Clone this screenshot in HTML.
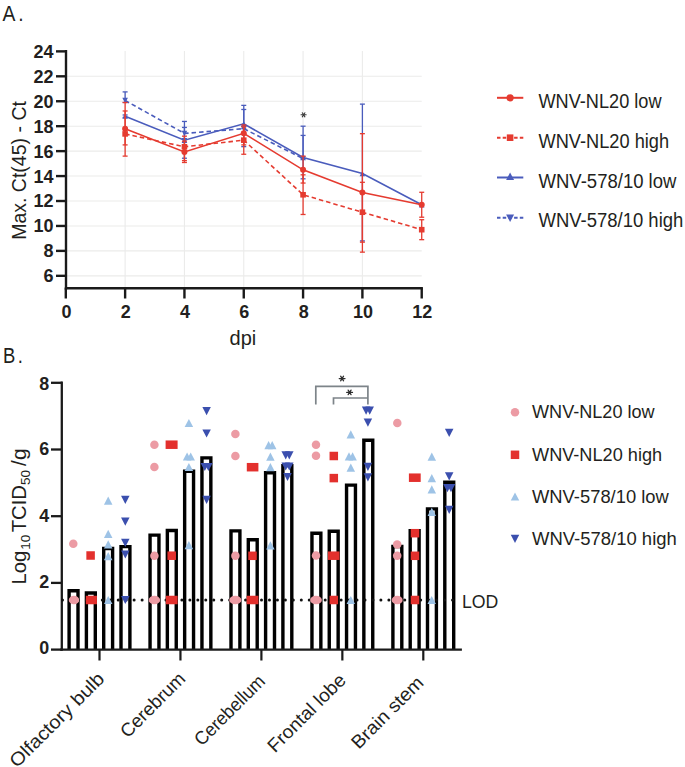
<!DOCTYPE html>
<html><head><meta charset="utf-8"><style>html,body{margin:0;padding:0;background:#fff;overflow:hidden;width:685px;height:767px}svg{display:block}</style></head>
<body><svg width="685" height="767" viewBox="0 0 685 767">
<rect width="685" height="767" fill="#fff"/>
<line x1="66" y1="275.83" x2="421.7" y2="275.83" stroke="#ebebea" stroke-width="1.1"/>
<line x1="66" y1="250.89" x2="421.7" y2="250.89" stroke="#ebebea" stroke-width="1.1"/>
<line x1="66" y1="225.95" x2="421.7" y2="225.95" stroke="#ebebea" stroke-width="1.1"/>
<line x1="66" y1="201.01" x2="421.7" y2="201.01" stroke="#ebebea" stroke-width="1.1"/>
<line x1="66" y1="176.07" x2="421.7" y2="176.07" stroke="#ebebea" stroke-width="1.1"/>
<line x1="66" y1="151.13" x2="421.7" y2="151.13" stroke="#ebebea" stroke-width="1.1"/>
<line x1="66" y1="126.19" x2="421.7" y2="126.19" stroke="#ebebea" stroke-width="1.1"/>
<line x1="66" y1="101.25" x2="421.7" y2="101.25" stroke="#ebebea" stroke-width="1.1"/>
<line x1="66" y1="76.31" x2="421.7" y2="76.31" stroke="#ebebea" stroke-width="1.1"/>
<line x1="125.12" y1="51" x2="125.12" y2="288" stroke="#ebebea" stroke-width="1.1"/>
<line x1="184.44" y1="51" x2="184.44" y2="288" stroke="#ebebea" stroke-width="1.1"/>
<line x1="243.76" y1="51" x2="243.76" y2="288" stroke="#ebebea" stroke-width="1.1"/>
<line x1="303.08" y1="51" x2="303.08" y2="288" stroke="#ebebea" stroke-width="1.1"/>
<line x1="362.40" y1="51" x2="362.40" y2="288" stroke="#ebebea" stroke-width="1.1"/>
<line x1="66" y1="50" x2="66" y2="289.5" stroke="#1a1a1a" stroke-width="2.4"/>
<line x1="64.8" y1="288.3" x2="422.9" y2="288.3" stroke="#1a1a1a" stroke-width="2.4"/>
<line x1="56" y1="275.83" x2="66" y2="275.83" stroke="#1a1a1a" stroke-width="2.4"/>
<text x="53.6" y="282.28" text-anchor="end" style="font-family:'Liberation Sans',sans-serif;font-weight:bold;font-size:18px" fill="#231f20">6</text>
<line x1="56" y1="250.89" x2="66" y2="250.89" stroke="#1a1a1a" stroke-width="2.4"/>
<text x="53.6" y="257.34" text-anchor="end" style="font-family:'Liberation Sans',sans-serif;font-weight:bold;font-size:18px" fill="#231f20">8</text>
<line x1="56" y1="225.95" x2="66" y2="225.95" stroke="#1a1a1a" stroke-width="2.4"/>
<text x="53.6" y="232.40" text-anchor="end" style="font-family:'Liberation Sans',sans-serif;font-weight:bold;font-size:18px" fill="#231f20">10</text>
<line x1="56" y1="201.01" x2="66" y2="201.01" stroke="#1a1a1a" stroke-width="2.4"/>
<text x="53.6" y="207.46" text-anchor="end" style="font-family:'Liberation Sans',sans-serif;font-weight:bold;font-size:18px" fill="#231f20">12</text>
<line x1="56" y1="176.07" x2="66" y2="176.07" stroke="#1a1a1a" stroke-width="2.4"/>
<text x="53.6" y="182.52" text-anchor="end" style="font-family:'Liberation Sans',sans-serif;font-weight:bold;font-size:18px" fill="#231f20">14</text>
<line x1="56" y1="151.13" x2="66" y2="151.13" stroke="#1a1a1a" stroke-width="2.4"/>
<text x="53.6" y="157.58" text-anchor="end" style="font-family:'Liberation Sans',sans-serif;font-weight:bold;font-size:18px" fill="#231f20">16</text>
<line x1="56" y1="126.19" x2="66" y2="126.19" stroke="#1a1a1a" stroke-width="2.4"/>
<text x="53.6" y="132.64" text-anchor="end" style="font-family:'Liberation Sans',sans-serif;font-weight:bold;font-size:18px" fill="#231f20">18</text>
<line x1="56" y1="101.25" x2="66" y2="101.25" stroke="#1a1a1a" stroke-width="2.4"/>
<text x="53.6" y="107.70" text-anchor="end" style="font-family:'Liberation Sans',sans-serif;font-weight:bold;font-size:18px" fill="#231f20">20</text>
<line x1="56" y1="76.31" x2="66" y2="76.31" stroke="#1a1a1a" stroke-width="2.4"/>
<text x="53.6" y="82.76" text-anchor="end" style="font-family:'Liberation Sans',sans-serif;font-weight:bold;font-size:18px" fill="#231f20">22</text>
<line x1="56" y1="51.37" x2="66" y2="51.37" stroke="#1a1a1a" stroke-width="2.4"/>
<text x="53.6" y="57.82" text-anchor="end" style="font-family:'Liberation Sans',sans-serif;font-weight:bold;font-size:18px" fill="#231f20">24</text>
<line x1="65.80" y1="288.3" x2="65.80" y2="298.5" stroke="#1a1a1a" stroke-width="2.4"/>
<text x="66.40" y="318.3" text-anchor="middle" style="font-family:'Liberation Sans',sans-serif;font-weight:bold;font-size:18px" fill="#231f20">0</text>
<line x1="125.12" y1="288.3" x2="125.12" y2="298.5" stroke="#1a1a1a" stroke-width="2.4"/>
<text x="125.72" y="318.3" text-anchor="middle" style="font-family:'Liberation Sans',sans-serif;font-weight:bold;font-size:18px" fill="#231f20">2</text>
<line x1="184.44" y1="288.3" x2="184.44" y2="298.5" stroke="#1a1a1a" stroke-width="2.4"/>
<text x="185.04" y="318.3" text-anchor="middle" style="font-family:'Liberation Sans',sans-serif;font-weight:bold;font-size:18px" fill="#231f20">4</text>
<line x1="243.76" y1="288.3" x2="243.76" y2="298.5" stroke="#1a1a1a" stroke-width="2.4"/>
<text x="244.36" y="318.3" text-anchor="middle" style="font-family:'Liberation Sans',sans-serif;font-weight:bold;font-size:18px" fill="#231f20">6</text>
<line x1="303.08" y1="288.3" x2="303.08" y2="298.5" stroke="#1a1a1a" stroke-width="2.4"/>
<text x="303.68" y="318.3" text-anchor="middle" style="font-family:'Liberation Sans',sans-serif;font-weight:bold;font-size:18px" fill="#231f20">8</text>
<line x1="362.40" y1="288.3" x2="362.40" y2="298.5" stroke="#1a1a1a" stroke-width="2.4"/>
<text x="363.00" y="318.3" text-anchor="middle" style="font-family:'Liberation Sans',sans-serif;font-weight:bold;font-size:18px" fill="#231f20">10</text>
<line x1="421.72" y1="288.3" x2="421.72" y2="298.5" stroke="#1a1a1a" stroke-width="2.4"/>
<text x="422.32" y="318.3" text-anchor="middle" style="font-family:'Liberation Sans',sans-serif;font-weight:bold;font-size:18px" fill="#231f20">12</text>
<text x="242.9" y="345.2" text-anchor="middle" style="font-family:'Liberation Sans',sans-serif;font-size:20px" fill="#231f20">dpi</text>
<text transform="translate(25.7,239.8) rotate(-90)" x="0" y="0" style="font-family:'Liberation Sans',sans-serif;font-size:19.5px" fill="#231f20">Max. Ct(45) - Ct</text>
<text transform="translate(2.4,21.2) scale(0.86,1)" style="font-family:'Liberation Sans',sans-serif;font-size:22.5px;letter-spacing:3.5px" fill="#231f20">A.</text>
<path d="M125.12,100.50 L184.44,133.42 L243.76,128.68 L303.08,158.61" fill="none" stroke="#4a5cbc" stroke-width="1.6" stroke-dasharray="4.5,3"/>
<path d="M125.12,116.21 L184.44,140.28 L243.76,123.82 L303.08,157.49 L362.40,173.58 L421.72,204.75" fill="none" stroke="#4a5cbc" stroke-width="1.6"/>
<line x1="125.12" y1="91.90" x2="125.12" y2="102.50" stroke="#4a5cbc" stroke-width="1.3"/><line x1="122.62" y1="91.90" x2="127.62" y2="91.90" stroke="#4a5cbc" stroke-width="1.3"/><line x1="122.62" y1="102.50" x2="127.62" y2="102.50" stroke="#4a5cbc" stroke-width="1.3"/>
<line x1="125.12" y1="114.97" x2="125.12" y2="117.46" stroke="#4a5cbc" stroke-width="1.3"/><line x1="122.62" y1="114.97" x2="127.62" y2="114.97" stroke="#4a5cbc" stroke-width="1.3"/><line x1="122.62" y1="117.46" x2="127.62" y2="117.46" stroke="#4a5cbc" stroke-width="1.3"/>
<line x1="184.44" y1="121.45" x2="184.44" y2="158.24" stroke="#4a5cbc" stroke-width="1.3"/><line x1="181.94" y1="121.45" x2="186.94" y2="121.45" stroke="#4a5cbc" stroke-width="1.3"/><line x1="181.94" y1="158.24" x2="186.94" y2="158.24" stroke="#4a5cbc" stroke-width="1.3"/>
<line x1="184.44" y1="127.44" x2="184.44" y2="138.66" stroke="#4a5cbc" stroke-width="1.3"/><line x1="181.94" y1="127.44" x2="186.94" y2="127.44" stroke="#4a5cbc" stroke-width="1.3"/><line x1="181.94" y1="138.66" x2="186.94" y2="138.66" stroke="#4a5cbc" stroke-width="1.3"/>
<line x1="243.76" y1="105.37" x2="243.76" y2="146.64" stroke="#4a5cbc" stroke-width="1.3"/><line x1="241.26" y1="105.37" x2="246.26" y2="105.37" stroke="#4a5cbc" stroke-width="1.3"/><line x1="241.26" y1="146.64" x2="246.26" y2="146.64" stroke="#4a5cbc" stroke-width="1.3"/>
<line x1="243.76" y1="109.48" x2="243.76" y2="128.68" stroke="#4a5cbc" stroke-width="1.3"/><line x1="241.26" y1="109.48" x2="246.26" y2="109.48" stroke="#4a5cbc" stroke-width="1.3"/><line x1="241.26" y1="128.68" x2="246.26" y2="128.68" stroke="#4a5cbc" stroke-width="1.3"/>
<line x1="303.08" y1="126.19" x2="303.08" y2="178.81" stroke="#4a5cbc" stroke-width="1.3"/><line x1="300.58" y1="126.19" x2="305.58" y2="126.19" stroke="#4a5cbc" stroke-width="1.3"/><line x1="300.58" y1="178.81" x2="305.58" y2="178.81" stroke="#4a5cbc" stroke-width="1.3"/>
<line x1="303.08" y1="135.42" x2="303.08" y2="158.61" stroke="#4a5cbc" stroke-width="1.3"/><line x1="300.58" y1="135.42" x2="305.58" y2="135.42" stroke="#4a5cbc" stroke-width="1.3"/><line x1="300.58" y1="158.61" x2="305.58" y2="158.61" stroke="#4a5cbc" stroke-width="1.3"/>
<line x1="362.40" y1="104.12" x2="362.40" y2="240.91" stroke="#4a5cbc" stroke-width="1.3"/><line x1="359.90" y1="104.12" x2="364.90" y2="104.12" stroke="#4a5cbc" stroke-width="1.3"/><line x1="359.90" y1="240.91" x2="364.90" y2="240.91" stroke="#4a5cbc" stroke-width="1.3"/>
<path d="M122.32,118.87 L127.92,118.87 L125.12,113.55 Z" fill="#4a5cbc"/>
<path d="M181.64,142.94 L187.24,142.94 L184.44,137.62 Z" fill="#4a5cbc"/>
<path d="M240.96,126.48 L246.56,126.48 L243.76,121.16 Z" fill="#4a5cbc"/>
<path d="M300.28,160.15 L305.88,160.15 L303.08,154.83 Z" fill="#4a5cbc"/>
<path d="M359.60,176.24 L365.20,176.24 L362.40,170.92 Z" fill="#4a5cbc"/>
<path d="M418.92,207.41 L424.52,207.41 L421.72,202.09 Z" fill="#4a5cbc"/>
<path d="M122.32,97.84 L127.92,97.84 L125.12,103.16 Z" fill="#4a5cbc"/>
<path d="M181.64,130.76 L187.24,130.76 L184.44,136.08 Z" fill="#4a5cbc"/>
<path d="M240.96,126.02 L246.56,126.02 L243.76,131.34 Z" fill="#4a5cbc"/>
<path d="M300.28,155.95 L305.88,155.95 L303.08,161.27 Z" fill="#4a5cbc"/>
<path d="M125.12,133.92 L184.44,146.77 L243.76,140.16 L303.08,194.78 L362.40,212.23 L421.72,229.69" fill="none" stroke="#e53b30" stroke-width="1.6" stroke-dasharray="4.5,3"/>
<path d="M125.12,128.68 L184.44,152.00 L243.76,133.30 L303.08,169.84 L362.40,192.53 L421.72,204.75" fill="none" stroke="#e53b30" stroke-width="1.6"/>
<line x1="125.12" y1="102.50" x2="125.12" y2="156.12" stroke="#e53b30" stroke-width="1.3"/><line x1="122.62" y1="102.50" x2="127.62" y2="102.50" stroke="#e53b30" stroke-width="1.3"/><line x1="122.62" y1="156.12" x2="127.62" y2="156.12" stroke="#e53b30" stroke-width="1.3"/>
<line x1="125.12" y1="110.98" x2="125.12" y2="144.90" stroke="#e53b30" stroke-width="1.3"/><line x1="122.62" y1="110.98" x2="127.62" y2="110.98" stroke="#e53b30" stroke-width="1.3"/><line x1="122.62" y1="144.90" x2="127.62" y2="144.90" stroke="#e53b30" stroke-width="1.3"/>
<line x1="184.44" y1="136.17" x2="184.44" y2="162.48" stroke="#e53b30" stroke-width="1.3"/><line x1="181.94" y1="136.17" x2="186.94" y2="136.17" stroke="#e53b30" stroke-width="1.3"/><line x1="181.94" y1="162.48" x2="186.94" y2="162.48" stroke="#e53b30" stroke-width="1.3"/>
<line x1="184.44" y1="141.15" x2="184.44" y2="160.61" stroke="#e53b30" stroke-width="1.3"/><line x1="181.94" y1="141.15" x2="186.94" y2="141.15" stroke="#e53b30" stroke-width="1.3"/><line x1="181.94" y1="160.61" x2="186.94" y2="160.61" stroke="#e53b30" stroke-width="1.3"/>
<line x1="243.76" y1="124.94" x2="243.76" y2="154.25" stroke="#e53b30" stroke-width="1.3"/><line x1="241.26" y1="124.94" x2="246.26" y2="124.94" stroke="#e53b30" stroke-width="1.3"/><line x1="241.26" y1="154.25" x2="246.26" y2="154.25" stroke="#e53b30" stroke-width="1.3"/>
<line x1="243.76" y1="126.81" x2="243.76" y2="144.90" stroke="#e53b30" stroke-width="1.3"/><line x1="241.26" y1="126.81" x2="246.26" y2="126.81" stroke="#e53b30" stroke-width="1.3"/><line x1="241.26" y1="144.90" x2="246.26" y2="144.90" stroke="#e53b30" stroke-width="1.3"/>
<line x1="303.08" y1="156.12" x2="303.08" y2="214.48" stroke="#e53b30" stroke-width="1.3"/><line x1="300.58" y1="156.12" x2="305.58" y2="156.12" stroke="#e53b30" stroke-width="1.3"/><line x1="300.58" y1="214.48" x2="305.58" y2="214.48" stroke="#e53b30" stroke-width="1.3"/>
<line x1="303.08" y1="174.82" x2="303.08" y2="183.05" stroke="#e53b30" stroke-width="1.3"/><line x1="300.58" y1="174.82" x2="305.58" y2="174.82" stroke="#e53b30" stroke-width="1.3"/><line x1="300.58" y1="183.05" x2="305.58" y2="183.05" stroke="#e53b30" stroke-width="1.3"/>
<line x1="362.40" y1="133.67" x2="362.40" y2="252.14" stroke="#e53b30" stroke-width="1.3"/><line x1="359.90" y1="133.67" x2="364.90" y2="133.67" stroke="#e53b30" stroke-width="1.3"/><line x1="359.90" y1="252.14" x2="364.90" y2="252.14" stroke="#e53b30" stroke-width="1.3"/>
<line x1="362.40" y1="182.31" x2="362.40" y2="242.16" stroke="#e53b30" stroke-width="1.3"/><line x1="359.90" y1="182.31" x2="364.90" y2="182.31" stroke="#e53b30" stroke-width="1.3"/><line x1="359.90" y1="242.16" x2="364.90" y2="242.16" stroke="#e53b30" stroke-width="1.3"/>
<line x1="421.72" y1="192.28" x2="421.72" y2="217.22" stroke="#e53b30" stroke-width="1.3"/><line x1="419.22" y1="192.28" x2="424.22" y2="192.28" stroke="#e53b30" stroke-width="1.3"/><line x1="419.22" y1="217.22" x2="424.22" y2="217.22" stroke="#e53b30" stroke-width="1.3"/>
<line x1="421.72" y1="219.72" x2="421.72" y2="239.67" stroke="#e53b30" stroke-width="1.3"/><line x1="419.22" y1="219.72" x2="424.22" y2="219.72" stroke="#e53b30" stroke-width="1.3"/><line x1="419.22" y1="239.67" x2="424.22" y2="239.67" stroke="#e53b30" stroke-width="1.3"/>
<rect x="122.32" y="131.12" width="5.6" height="5.6" fill="#e53b30"/>
<rect x="181.64" y="143.97" width="5.6" height="5.6" fill="#e53b30"/>
<rect x="240.96" y="137.36" width="5.6" height="5.6" fill="#e53b30"/>
<rect x="300.28" y="191.97" width="5.6" height="5.6" fill="#e53b30"/>
<rect x="359.60" y="209.43" width="5.6" height="5.6" fill="#e53b30"/>
<rect x="418.92" y="226.89" width="5.6" height="5.6" fill="#e53b30"/>
<circle cx="125.12" cy="128.68" r="3.0" fill="#e53b30"/>
<circle cx="184.44" cy="152.00" r="3.0" fill="#e53b30"/>
<circle cx="243.76" cy="133.30" r="3.0" fill="#e53b30"/>
<circle cx="303.08" cy="169.84" r="3.0" fill="#e53b30"/>
<circle cx="362.40" cy="192.53" r="3.0" fill="#e53b30"/>
<circle cx="421.72" cy="204.75" r="3.0" fill="#e53b30"/>
<line x1="497" y1="97.8" x2="523.3" y2="97.8" stroke="#e53b30" stroke-width="2"/>
<circle cx="510.1" cy="97.8" r="3.6" fill="#e53b30"/>
<text x="538.5" y="108.0" textLength="123" lengthAdjust="spacingAndGlyphs" style="font-family:'Liberation Sans',sans-serif;font-size:19.5px" fill="#231f20">WNV-NL20 low</text>
<line x1="497" y1="137.7" x2="523.3" y2="137.7" stroke="#e53b30" stroke-width="2" stroke-dasharray="3.5,2.2"/>
<rect x="506.8" y="134.39999999999998" width="6.6" height="6.6" fill="#e53b30"/>
<text x="538.5" y="148.0" textLength="130.6" lengthAdjust="spacingAndGlyphs" style="font-family:'Liberation Sans',sans-serif;font-size:19.5px" fill="#231f20">WNV-NL20 high</text>
<line x1="497" y1="177.5" x2="523.3" y2="177.5" stroke="#4a5cbc" stroke-width="2"/>
<path d="M506.10,180.10 L514.10,180.10 L510.10,172.50 Z" fill="#4a5cbc"/>
<text x="538.5" y="187.5" textLength="137.9" lengthAdjust="spacingAndGlyphs" style="font-family:'Liberation Sans',sans-serif;font-size:19.5px" fill="#231f20">WNV-578/10 low</text>
<line x1="497" y1="217.7" x2="523.3" y2="217.7" stroke="#4a5cbc" stroke-width="2" stroke-dasharray="3.5,2.2"/>
<path d="M506.10,214.40 L514.10,214.40 L510.10,222.00 Z" fill="#4a5cbc"/>
<text x="538.5" y="226.8" textLength="144.8" lengthAdjust="spacingAndGlyphs" style="font-family:'Liberation Sans',sans-serif;font-size:19.5px" fill="#231f20">WNV-578/10 high</text>
<text transform="translate(3,362.8) scale(0.84,1)" style="font-family:'Liberation Sans',sans-serif;font-size:22px;letter-spacing:3px" fill="#231f20">B.</text>
<line x1="61.8" y1="381.6" x2="61.8" y2="650.7" stroke="#1a1a1a" stroke-width="2.3"/>
<line x1="51" y1="649.60" x2="61.8" y2="649.60" stroke="#1a1a1a" stroke-width="2.3"/>
<text x="49.2" y="654.10" text-anchor="end" style="font-family:'Liberation Sans',sans-serif;font-weight:bold;font-size:17.9px" fill="#231f20">0</text>
<line x1="51" y1="582.90" x2="61.8" y2="582.90" stroke="#1a1a1a" stroke-width="2.3"/>
<text x="49.2" y="588.40" text-anchor="end" style="font-family:'Liberation Sans',sans-serif;font-weight:bold;font-size:17.9px" fill="#231f20">2</text>
<line x1="51" y1="516.20" x2="61.8" y2="516.20" stroke="#1a1a1a" stroke-width="2.3"/>
<text x="49.2" y="521.90" text-anchor="end" style="font-family:'Liberation Sans',sans-serif;font-weight:bold;font-size:17.9px" fill="#231f20">4</text>
<line x1="51" y1="449.50" x2="61.8" y2="449.50" stroke="#1a1a1a" stroke-width="2.3"/>
<text x="49.2" y="455.30" text-anchor="end" style="font-family:'Liberation Sans',sans-serif;font-weight:bold;font-size:17.9px" fill="#231f20">6</text>
<line x1="51" y1="382.80" x2="61.8" y2="382.80" stroke="#1a1a1a" stroke-width="2.3"/>
<text x="49.2" y="389.80" text-anchor="end" style="font-family:'Liberation Sans',sans-serif;font-weight:bold;font-size:17.9px" fill="#231f20">8</text>
<line x1="99.50" y1="649.6" x2="99.50" y2="660.5" stroke="#1a1a1a" stroke-width="2.2"/>
<line x1="180.45" y1="649.6" x2="180.45" y2="660.5" stroke="#1a1a1a" stroke-width="2.2"/>
<line x1="261.40" y1="649.6" x2="261.40" y2="660.5" stroke="#1a1a1a" stroke-width="2.2"/>
<line x1="342.35" y1="649.6" x2="342.35" y2="660.5" stroke="#1a1a1a" stroke-width="2.2"/>
<line x1="423.30" y1="649.6" x2="423.30" y2="660.5" stroke="#1a1a1a" stroke-width="2.2"/>
<path d="M69.10,649.6 L69.10,590.70 L78.00,590.70 L78.00,649.6" fill="#fff" stroke="#000" stroke-width="3.4" stroke-linejoin="miter"/>
<path d="M86.40,649.6 L86.40,593.00 L95.30,593.00 L95.30,649.6" fill="#fff" stroke="#000" stroke-width="3.4" stroke-linejoin="miter"/>
<path d="M103.70,649.6 L103.70,548.50 L112.60,548.50 L112.60,649.6" fill="#fff" stroke="#000" stroke-width="3.4" stroke-linejoin="miter"/>
<path d="M121.00,649.6 L121.00,546.60 L129.90,546.60 L129.90,649.6" fill="#fff" stroke="#000" stroke-width="3.4" stroke-linejoin="miter"/>
<path d="M150.05,649.6 L150.05,535.10 L158.95,535.10 L158.95,649.6" fill="#fff" stroke="#000" stroke-width="3.4" stroke-linejoin="miter"/>
<path d="M167.35,649.6 L167.35,530.50 L176.25,530.50 L176.25,649.6" fill="#fff" stroke="#000" stroke-width="3.4" stroke-linejoin="miter"/>
<path d="M184.65,649.6 L184.65,471.30 L193.55,471.30 L193.55,649.6" fill="#fff" stroke="#000" stroke-width="3.4" stroke-linejoin="miter"/>
<path d="M201.95,649.6 L201.95,457.90 L210.85,457.90 L210.85,649.6" fill="#fff" stroke="#000" stroke-width="3.4" stroke-linejoin="miter"/>
<path d="M231.00,649.6 L231.00,530.90 L239.90,530.90 L239.90,649.6" fill="#fff" stroke="#000" stroke-width="3.4" stroke-linejoin="miter"/>
<path d="M248.30,649.6 L248.30,539.80 L257.20,539.80 L257.20,649.6" fill="#fff" stroke="#000" stroke-width="3.4" stroke-linejoin="miter"/>
<path d="M265.60,649.6 L265.60,472.80 L274.50,472.80 L274.50,649.6" fill="#fff" stroke="#000" stroke-width="3.4" stroke-linejoin="miter"/>
<path d="M282.90,649.6 L282.90,465.60 L291.80,465.60 L291.80,649.6" fill="#fff" stroke="#000" stroke-width="3.4" stroke-linejoin="miter"/>
<path d="M311.95,649.6 L311.95,533.30 L320.85,533.30 L320.85,649.6" fill="#fff" stroke="#000" stroke-width="3.4" stroke-linejoin="miter"/>
<path d="M329.25,649.6 L329.25,531.20 L338.15,531.20 L338.15,649.6" fill="#fff" stroke="#000" stroke-width="3.4" stroke-linejoin="miter"/>
<path d="M346.55,649.6 L346.55,485.10 L355.45,485.10 L355.45,649.6" fill="#fff" stroke="#000" stroke-width="3.4" stroke-linejoin="miter"/>
<path d="M363.85,649.6 L363.85,440.30 L372.75,440.30 L372.75,649.6" fill="#fff" stroke="#000" stroke-width="3.4" stroke-linejoin="miter"/>
<path d="M392.90,649.6 L392.90,546.50 L401.80,546.50 L401.80,649.6" fill="#fff" stroke="#000" stroke-width="3.4" stroke-linejoin="miter"/>
<path d="M410.20,649.6 L410.20,530.80 L419.10,530.80 L419.10,649.6" fill="#fff" stroke="#000" stroke-width="3.4" stroke-linejoin="miter"/>
<path d="M427.50,649.6 L427.50,508.90 L436.40,508.90 L436.40,649.6" fill="#fff" stroke="#000" stroke-width="3.4" stroke-linejoin="miter"/>
<path d="M444.80,649.6 L444.80,482.20 L453.70,482.20 L453.70,649.6" fill="#fff" stroke="#000" stroke-width="3.4" stroke-linejoin="miter"/>
<line x1="60.2" y1="649.6" x2="461.9" y2="649.6" stroke="#1a1a1a" stroke-width="2.3"/>
<circle cx="62.50" cy="600" r="1.5" fill="#111"/><circle cx="70.46" cy="600" r="1.5" fill="#111"/><circle cx="78.42" cy="600" r="1.5" fill="#111"/><circle cx="86.38" cy="600" r="1.5" fill="#111"/><circle cx="94.34" cy="600" r="1.5" fill="#111"/><circle cx="102.30" cy="600" r="1.5" fill="#111"/><circle cx="110.26" cy="600" r="1.5" fill="#111"/><circle cx="118.22" cy="600" r="1.5" fill="#111"/><circle cx="126.18" cy="600" r="1.5" fill="#111"/><circle cx="134.14" cy="600" r="1.5" fill="#111"/><circle cx="142.10" cy="600" r="1.5" fill="#111"/><circle cx="150.06" cy="600" r="1.5" fill="#111"/><circle cx="158.02" cy="600" r="1.5" fill="#111"/><circle cx="165.98" cy="600" r="1.5" fill="#111"/><circle cx="173.94" cy="600" r="1.5" fill="#111"/><circle cx="181.90" cy="600" r="1.5" fill="#111"/><circle cx="189.86" cy="600" r="1.5" fill="#111"/><circle cx="197.82" cy="600" r="1.5" fill="#111"/><circle cx="205.78" cy="600" r="1.5" fill="#111"/><circle cx="213.74" cy="600" r="1.5" fill="#111"/><circle cx="221.70" cy="600" r="1.5" fill="#111"/><circle cx="229.66" cy="600" r="1.5" fill="#111"/><circle cx="237.62" cy="600" r="1.5" fill="#111"/><circle cx="245.58" cy="600" r="1.5" fill="#111"/><circle cx="253.54" cy="600" r="1.5" fill="#111"/><circle cx="261.50" cy="600" r="1.5" fill="#111"/><circle cx="269.46" cy="600" r="1.5" fill="#111"/><circle cx="277.42" cy="600" r="1.5" fill="#111"/><circle cx="285.38" cy="600" r="1.5" fill="#111"/><circle cx="293.34" cy="600" r="1.5" fill="#111"/><circle cx="301.30" cy="600" r="1.5" fill="#111"/><circle cx="309.26" cy="600" r="1.5" fill="#111"/><circle cx="317.22" cy="600" r="1.5" fill="#111"/><circle cx="325.18" cy="600" r="1.5" fill="#111"/><circle cx="333.14" cy="600" r="1.5" fill="#111"/><circle cx="341.10" cy="600" r="1.5" fill="#111"/><circle cx="349.06" cy="600" r="1.5" fill="#111"/><circle cx="357.02" cy="600" r="1.5" fill="#111"/><circle cx="364.98" cy="600" r="1.5" fill="#111"/><circle cx="372.94" cy="600" r="1.5" fill="#111"/><circle cx="380.90" cy="600" r="1.5" fill="#111"/><circle cx="388.86" cy="600" r="1.5" fill="#111"/><circle cx="396.82" cy="600" r="1.5" fill="#111"/><circle cx="404.78" cy="600" r="1.5" fill="#111"/><circle cx="412.74" cy="600" r="1.5" fill="#111"/><circle cx="420.70" cy="600" r="1.5" fill="#111"/><circle cx="428.66" cy="600" r="1.5" fill="#111"/><circle cx="436.62" cy="600" r="1.5" fill="#111"/><circle cx="444.58" cy="600" r="1.5" fill="#111"/><circle cx="452.54" cy="600" r="1.5" fill="#111"/>
<text x="462" y="607.8" style="font-family:'Liberation Sans',sans-serif;font-size:17.7px" fill="#231f20">LOD</text>
<circle cx="73.30" cy="543.70" r="4.25" fill="#ec9ba4"/><ellipse cx="74.00" cy="600.00" rx="5.25" ry="4.25" fill="#ec9ba4"/><rect x="86.35" y="551.25" width="8.50" height="8.50" fill="#e3302d"/><rect x="85.85" y="595.75" width="11.10" height="8.50" fill="#e3302d"/><path d="M103.95,504.68 L112.45,504.68 L108.20,496.52 Z" fill="#9ec3e6"/><path d="M103.95,537.98 L112.45,537.98 L108.20,529.82 Z" fill="#9ec3e6"/><path d="M103.95,548.48 L112.45,548.48 L108.20,540.32 Z" fill="#9ec3e6"/><path d="M103.95,560.28 L112.45,560.28 L108.20,552.12 Z" fill="#9ec3e6"/><path d="M103.95,604.08 L112.45,604.08 L108.20,595.92 Z" fill="#9ec3e6"/><path d="M121.05,495.82 L129.55,495.82 L125.30,503.98 Z" fill="#3b4fae"/><path d="M121.05,517.62 L129.55,517.62 L125.30,525.78 Z" fill="#3b4fae"/><path d="M121.05,538.72 L129.55,538.72 L125.30,546.88 Z" fill="#3b4fae"/><path d="M121.05,550.42 L129.55,550.42 L125.30,558.58 Z" fill="#3b4fae"/><path d="M121.05,595.92 L129.55,595.92 L125.30,604.08 Z" fill="#3b4fae"/><circle cx="154.40" cy="444.70" r="4.25" fill="#ec9ba4"/><circle cx="154.40" cy="467.00" r="4.25" fill="#ec9ba4"/><circle cx="154.40" cy="555.70" r="4.25" fill="#ec9ba4"/><ellipse cx="154.40" cy="600.00" rx="5.75" ry="4.25" fill="#ec9ba4"/><rect x="165.60" y="440.45" width="12.00" height="8.50" fill="#e3302d"/><rect x="167.45" y="551.45" width="8.50" height="8.50" fill="#e3302d"/><rect x="165.80" y="595.75" width="11.80" height="8.50" fill="#e3302d"/><path d="M184.65,427.08 L193.15,427.08 L188.90,418.92 Z" fill="#9ec3e6"/><path d="M182.85,460.58 L191.35,460.58 L187.10,452.42 Z" fill="#9ec3e6"/><path d="M186.45,460.58 L194.95,460.58 L190.70,452.42 Z" fill="#9ec3e6"/><path d="M184.65,471.08 L193.15,471.08 L188.90,462.92 Z" fill="#9ec3e6"/><path d="M184.65,549.28 L193.15,549.28 L188.90,541.12 Z" fill="#9ec3e6"/><path d="M202.35,407.12 L210.85,407.12 L206.60,415.28 Z" fill="#3b4fae"/><path d="M202.35,429.42 L210.85,429.42 L206.60,437.58 Z" fill="#3b4fae"/><path d="M200.55,462.92 L209.05,462.92 L204.80,471.08 Z" fill="#3b4fae"/><path d="M204.15,462.92 L212.65,462.92 L208.40,471.08 Z" fill="#3b4fae"/><path d="M202.35,495.82 L210.85,495.82 L206.60,503.98 Z" fill="#3b4fae"/><circle cx="235.40" cy="433.90" r="4.25" fill="#ec9ba4"/><circle cx="235.40" cy="456.00" r="4.25" fill="#ec9ba4"/><circle cx="235.40" cy="555.80" r="4.25" fill="#ec9ba4"/><ellipse cx="235.30" cy="600.00" rx="6.10" ry="4.25" fill="#ec9ba4"/><rect x="246.80" y="462.95" width="11.60" height="8.50" fill="#e3302d"/><rect x="248.25" y="551.55" width="8.50" height="8.50" fill="#e3302d"/><rect x="246.60" y="595.75" width="11.80" height="8.50" fill="#e3302d"/><path d="M264.35,449.28 L272.85,449.28 L268.60,441.12 Z" fill="#9ec3e6"/><path d="M267.95,449.28 L276.45,449.28 L272.20,441.12 Z" fill="#9ec3e6"/><path d="M266.15,460.68 L274.65,460.68 L270.40,452.52 Z" fill="#9ec3e6"/><path d="M266.15,471.28 L274.65,471.28 L270.40,463.12 Z" fill="#9ec3e6"/><path d="M266.15,549.38 L274.65,549.38 L270.40,541.22 Z" fill="#9ec3e6"/><path d="M281.45,451.22 L289.95,451.22 L285.70,459.38 Z" fill="#3b4fae"/><path d="M285.05,451.22 L293.55,451.22 L289.30,459.38 Z" fill="#3b4fae"/><path d="M281.45,462.42 L289.95,462.42 L285.70,470.58 Z" fill="#3b4fae"/><path d="M285.05,462.42 L293.55,462.42 L289.30,470.58 Z" fill="#3b4fae"/><path d="M283.25,472.92 L291.75,472.92 L287.50,481.08 Z" fill="#3b4fae"/><circle cx="316.00" cy="444.70" r="4.25" fill="#ec9ba4"/><circle cx="316.00" cy="455.80" r="4.25" fill="#ec9ba4"/><circle cx="316.00" cy="555.50" r="4.25" fill="#ec9ba4"/><ellipse cx="316.00" cy="600.00" rx="5.90" ry="4.25" fill="#ec9ba4"/><rect x="329.55" y="451.75" width="8.50" height="8.50" fill="#e3302d"/><rect x="329.55" y="473.85" width="8.50" height="8.50" fill="#e3302d"/><rect x="327.90" y="551.45" width="11.60" height="8.50" fill="#e3302d"/><rect x="329.55" y="595.75" width="8.50" height="8.50" fill="#e3302d"/><path d="M346.55,438.48 L355.05,438.48 L350.80,430.32 Z" fill="#9ec3e6"/><path d="M344.75,460.48 L353.25,460.48 L349.00,452.32 Z" fill="#9ec3e6"/><path d="M348.35,460.48 L356.85,460.48 L352.60,452.32 Z" fill="#9ec3e6"/><path d="M346.55,471.68 L355.05,471.68 L350.80,463.52 Z" fill="#9ec3e6"/><path d="M346.55,604.08 L355.05,604.08 L350.80,595.92 Z" fill="#9ec3e6"/><path d="M361.85,406.62 L370.35,406.62 L366.10,414.78 Z" fill="#3b4fae"/><path d="M365.45,406.62 L373.95,406.62 L369.70,414.78 Z" fill="#3b4fae"/><path d="M363.65,418.52 L372.15,418.52 L367.90,426.68 Z" fill="#3b4fae"/><path d="M363.65,462.82 L372.15,462.82 L367.90,470.98 Z" fill="#3b4fae"/><path d="M363.65,473.32 L372.15,473.32 L367.90,481.48 Z" fill="#3b4fae"/><circle cx="397.30" cy="423.00" r="4.25" fill="#ec9ba4"/><circle cx="397.20" cy="544.40" r="4.25" fill="#ec9ba4"/><circle cx="397.20" cy="555.80" r="4.25" fill="#ec9ba4"/><ellipse cx="397.20" cy="600.00" rx="5.50" ry="4.25" fill="#ec9ba4"/><rect x="408.90" y="473.45" width="11.80" height="8.50" fill="#e3302d"/><rect x="410.75" y="528.95" width="8.50" height="8.50" fill="#e3302d"/><rect x="410.75" y="551.55" width="8.50" height="8.50" fill="#e3302d"/><rect x="410.75" y="595.75" width="8.50" height="8.50" fill="#e3302d"/><path d="M427.55,460.68 L436.05,460.68 L431.80,452.52 Z" fill="#9ec3e6"/><path d="M427.55,482.28 L436.05,482.28 L431.80,474.12 Z" fill="#9ec3e6"/><path d="M427.55,493.48 L436.05,493.48 L431.80,485.32 Z" fill="#9ec3e6"/><path d="M427.55,515.88 L436.05,515.88 L431.80,507.72 Z" fill="#9ec3e6"/><path d="M427.45,604.08 L435.95,604.08 L431.70,595.92 Z" fill="#9ec3e6"/><path d="M444.95,428.72 L453.45,428.72 L449.20,436.88 Z" fill="#3b4fae"/><path d="M444.95,472.22 L453.45,472.22 L449.20,480.38 Z" fill="#3b4fae"/><path d="M443.15,484.02 L451.65,484.02 L447.40,492.18 Z" fill="#3b4fae"/><path d="M446.75,484.02 L455.25,484.02 L451.00,492.18 Z" fill="#3b4fae"/><path d="M444.95,505.72 L453.45,505.72 L449.20,513.88 Z" fill="#3b4fae"/>
<path d="M315.8,404.4 L315.8,386.4 L367.9,386.4 L367.9,404.4" fill="none" stroke="#7d8489" stroke-width="1.7"/>
<path d="M333.5,404.4 L333.5,398 L367.9,398" fill="none" stroke="#7d8489" stroke-width="1.7"/>
<path d="M339.20,378.50 L345.00,378.50 M340.65,376.20 L343.55,380.80 M343.55,376.20 L340.65,380.80" stroke="#2e2e2e" stroke-width="1.25" stroke-linecap="round" fill="none"/>
<path d="M346.70,392.40 L352.50,392.40 M348.15,390.10 L351.05,394.70 M351.05,390.10 L348.15,394.70" stroke="#2e2e2e" stroke-width="1.25" stroke-linecap="round" fill="none"/>
<path d="M301.00,114.80 L306.20,114.80 M302.30,112.70 L304.90,116.90 M304.90,112.70 L302.30,116.90" stroke="#3a3a3a" stroke-width="1.05" stroke-linecap="round" fill="none"/>
<circle cx="515.00" cy="412.20" r="4.25" fill="#ec9ba4"/>
<text x="532" y="417.9" textLength="122.6" lengthAdjust="spacingAndGlyphs" style="font-family:'Liberation Sans',sans-serif;font-size:19.2px" fill="#231f20">WNV-NL20 low</text>
<rect x="510.75" y="450.55" width="8.50" height="8.50" fill="#e3302d"/>
<text x="532" y="460.8" textLength="130.1" lengthAdjust="spacingAndGlyphs" style="font-family:'Liberation Sans',sans-serif;font-size:19.2px" fill="#231f20">WNV-NL20 high</text>
<path d="M510.75,500.58 L519.25,500.58 L515.00,492.42 Z" fill="#9ec3e6"/>
<text x="532" y="503.2" textLength="136.8" lengthAdjust="spacingAndGlyphs" style="font-family:'Liberation Sans',sans-serif;font-size:19.2px" fill="#231f20">WNV-578/10 low</text>
<path d="M510.75,534.72 L519.25,534.72 L515.00,542.88 Z" fill="#3b4fae"/>
<text x="532" y="545" textLength="144.8" lengthAdjust="spacingAndGlyphs" style="font-family:'Liberation Sans',sans-serif;font-size:19.2px" fill="#231f20">WNV-578/10 high</text>
<text transform="translate(105.50,680) rotate(-45)" text-anchor="end" textLength="125.0" lengthAdjust="spacingAndGlyphs" style="font-family:'Liberation Sans',sans-serif;font-size:18.7px" fill="#231f20">Olfactory bulb</text>
<text transform="translate(186.45,680) rotate(-45)" text-anchor="end" textLength="83.1" lengthAdjust="spacingAndGlyphs" style="font-family:'Liberation Sans',sans-serif;font-size:18.7px" fill="#231f20">Cerebrum</text>
<text transform="translate(266.10,682.6) rotate(-45)" text-anchor="end" textLength="90.9" lengthAdjust="spacingAndGlyphs" style="font-family:'Liberation Sans',sans-serif;font-size:18.7px" fill="#231f20">Cerebellum</text>
<text transform="translate(347.05,681.3) rotate(-45)" text-anchor="end" textLength="102.0" lengthAdjust="spacingAndGlyphs" style="font-family:'Liberation Sans',sans-serif;font-size:18.7px" fill="#231f20">Frontal lobe</text>
<text transform="translate(424.70,683.9) rotate(-45)" text-anchor="end" textLength="93.4" lengthAdjust="spacingAndGlyphs" style="font-family:'Liberation Sans',sans-serif;font-size:18.7px" fill="#231f20">Brain stem</text>
<text transform="translate(25.8,584.5) rotate(-90)" style="font-family:'Liberation Sans',sans-serif;font-size:20.3px" fill="#231f20"><tspan x="0" y="0">Log</tspan><tspan x="34.7" y="4.5" font-size="13.5">10</tspan><tspan x="52.2" y="0">TCID</tspan><tspan x="99.6" y="4.5" font-size="13.5">50</tspan><tspan x="118.4" y="0">/</tspan><tspan x="124.4" y="0" font-size="21">g</tspan></text>
</svg></body></html>
